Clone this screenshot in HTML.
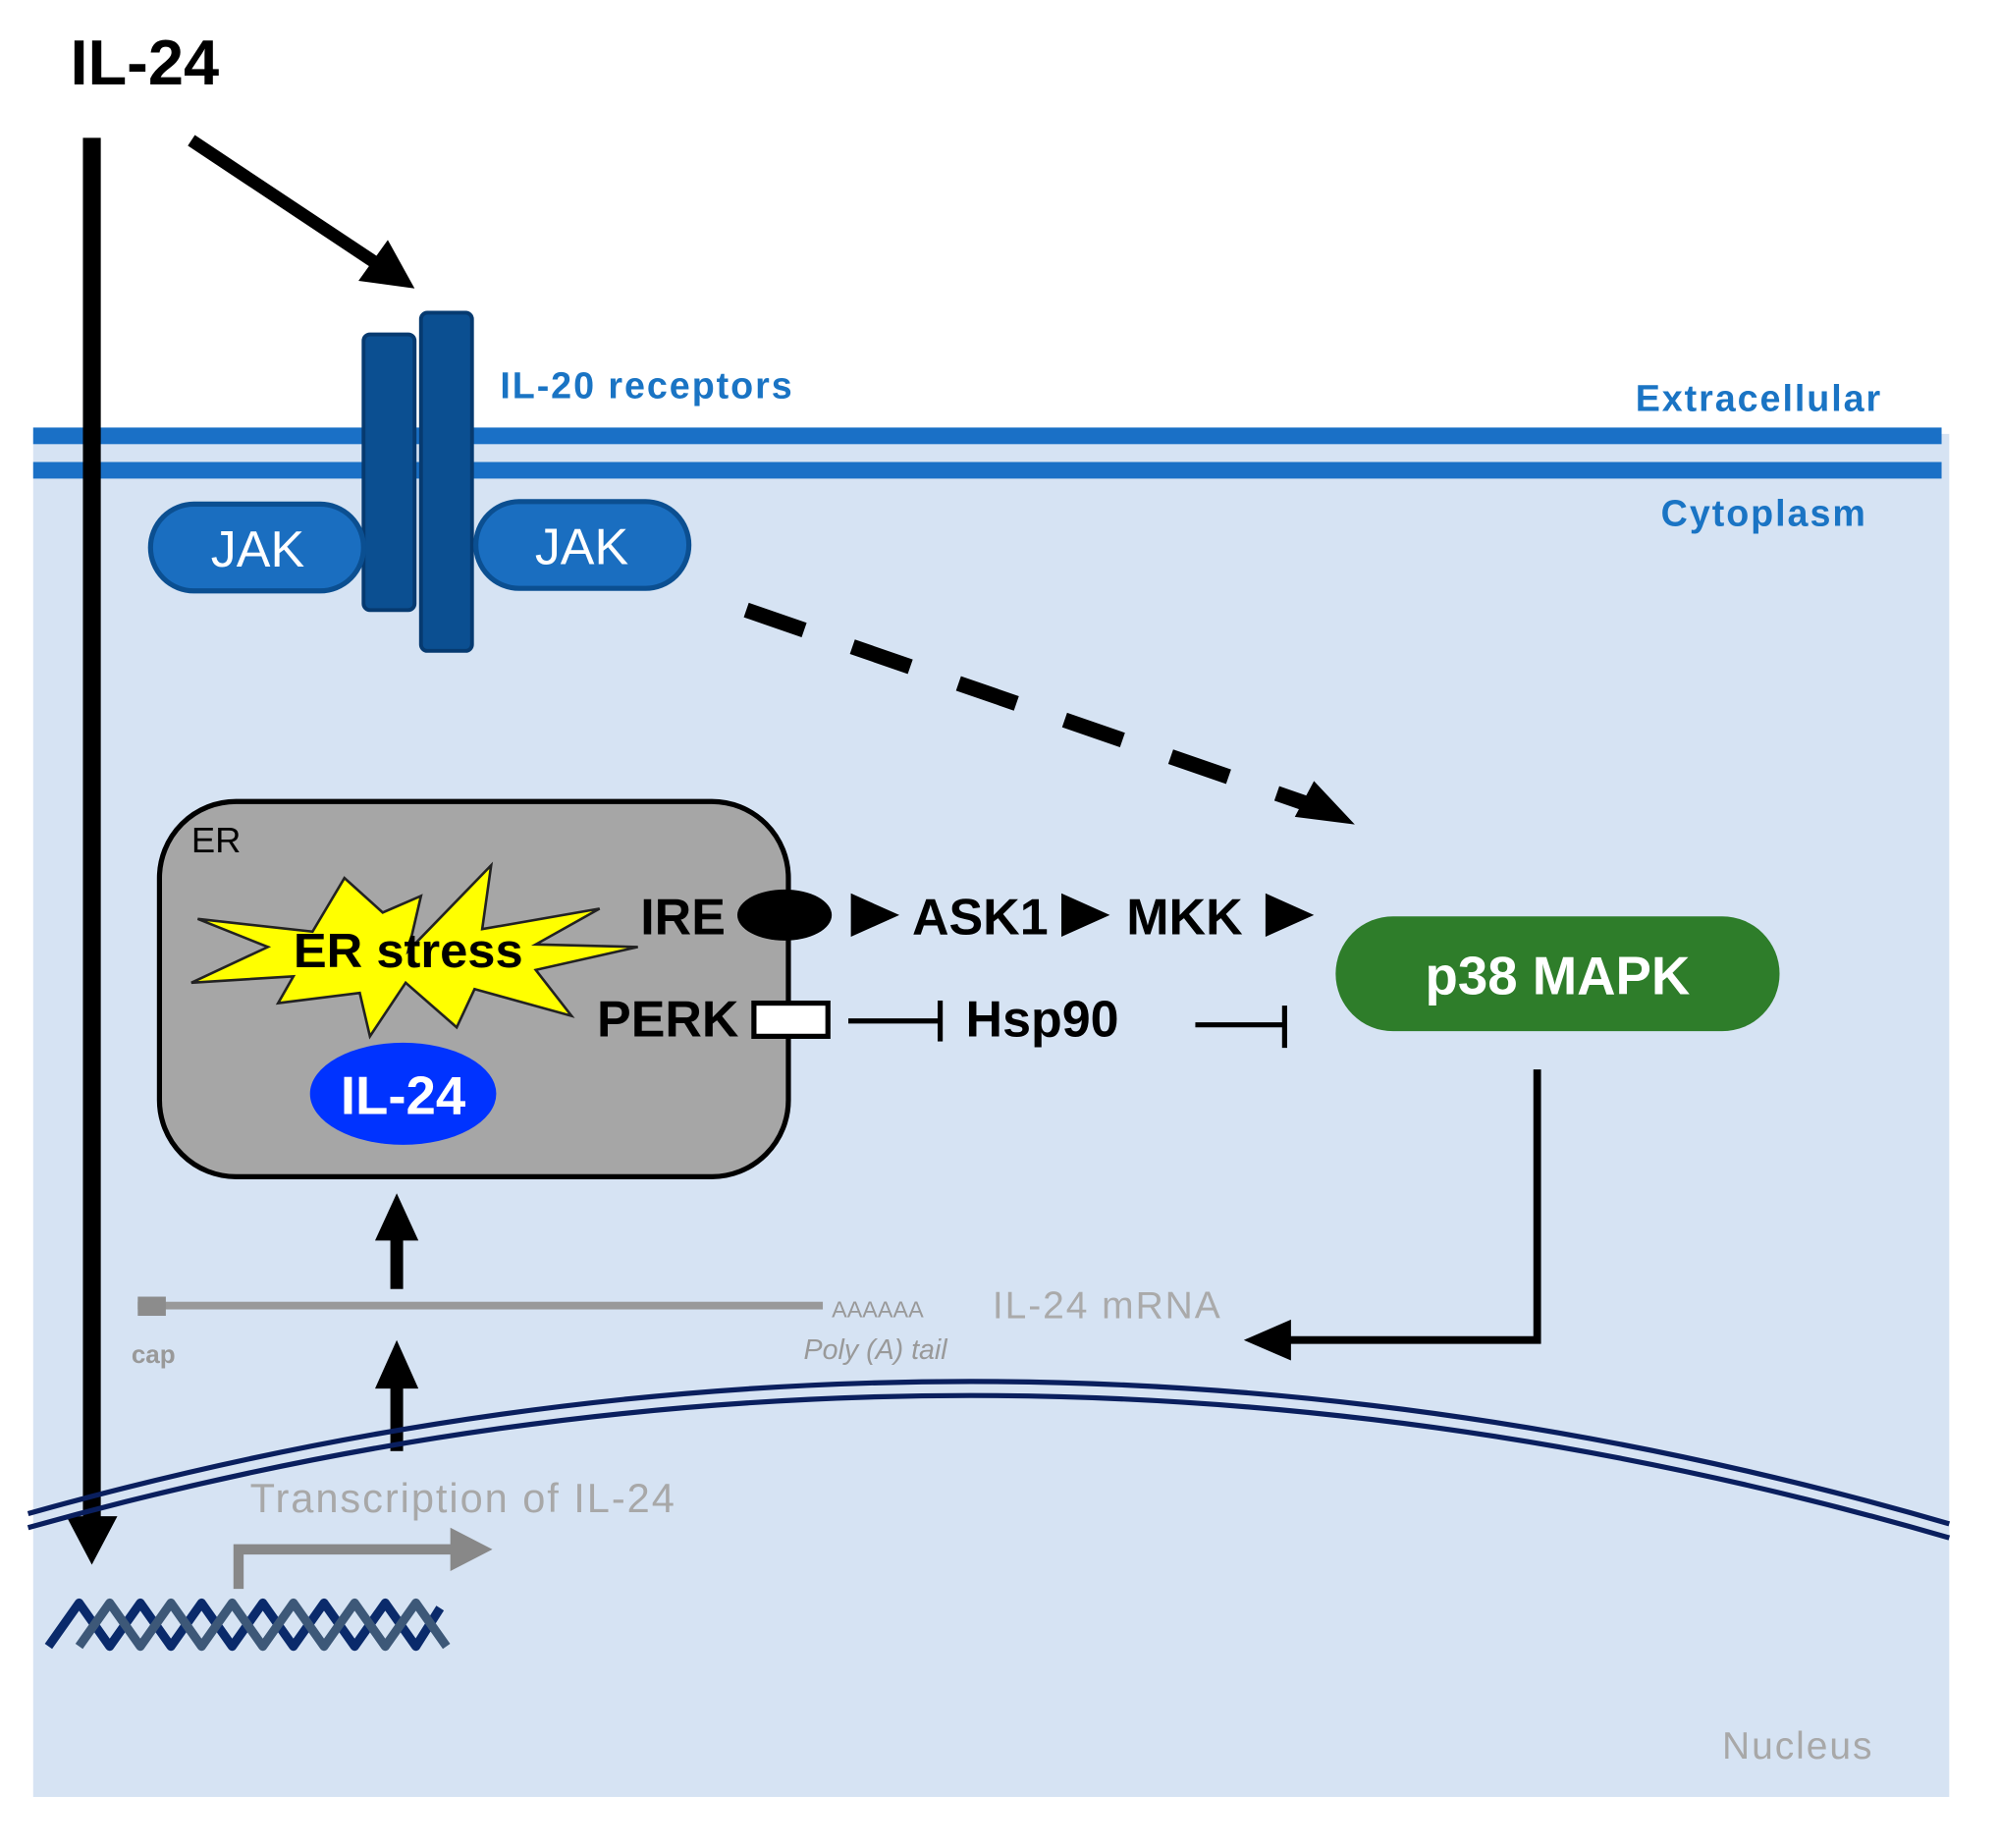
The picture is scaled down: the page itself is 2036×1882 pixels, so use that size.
<!DOCTYPE html>
<html><head><meta charset="utf-8"><style>
html,body{margin:0;padding:0;background:#fff;}
svg{display:block;}
text{font-family:"Liberation Sans",sans-serif;}
</style></head><body>
<svg width="2036" height="1882" viewBox="0 0 1567 1448" preserveAspectRatio="none" xmlns="http://www.w3.org/2000/svg">
<rect x="26" y="340" width="1502" height="1068" fill="#d6e3f3"/>
<rect x="26" y="335" width="1496" height="13" fill="#1a70c6"/>
<rect x="26" y="362" width="1496" height="13" fill="#1a70c6"/>

<text x="55" y="66" font-size="50" font-weight="bold" fill="#000">IL-24</text>

<rect x="65" y="108" width="14" height="1085" fill="#000"/>
<path d="M52,1188 L92,1188 L72,1226 z" fill="#000"/>
<line x1="150" y1="110" x2="296" y2="207" stroke="#000" stroke-width="10"/>
<path d="M281,220 L325,226 L304,188 z" fill="#000"/>

<rect x="285" y="262" width="40" height="216" rx="5" fill="#0b4f91" stroke="#063a70" stroke-width="3"/>
<rect x="330" y="245" width="40" height="265" rx="5" fill="#0b4f91" stroke="#063a70" stroke-width="3"/>
<rect x="118" y="395" width="167" height="68" rx="34" fill="#1a6ec0" stroke="#0b4f91" stroke-width="4"/>
<rect x="373" y="393" width="167" height="68" rx="34" fill="#1a6ec0" stroke="#0b4f91" stroke-width="4"/>
<text x="202" y="444" font-size="40" fill="#fff" text-anchor="middle">JAK</text>
<text x="456" y="442" font-size="40" fill="#fff" text-anchor="middle">JAK</text>
<text x="392" y="312" font-size="29" font-weight="bold" fill="#1a74c4" letter-spacing="1.5">IL-20 receptors</text>
<text x="1282" y="322" font-size="29" font-weight="bold" fill="#1a74c4" letter-spacing="1.5">Extracellular</text>
<text x="1302" y="412" font-size="29" font-weight="bold" fill="#1a74c4" letter-spacing="1.5">Cytoplasm</text>

<line x1="585" y1="478" x2="1025" y2="630" stroke="#000" stroke-width="12" stroke-dasharray="48,40"/>
<path d="M1015,640 L1062,646 L1030,612 z" fill="#000"/>

<rect x="125" y="628" width="493" height="294" rx="60" fill="#a6a6a6" stroke="#000" stroke-width="4"/>
<text x="150" y="668" font-size="28" fill="#000">ER</text>
<polygon points="320,745 385,678 378,728 470,712 420,740 500,742 420,760 448,796 372,775 358,805 318,770 290,812 282,778 218,786 230,765 150,770 210,742 155,720 245,730 270,688 300,715 330,702" fill="#ffff00" stroke="#222" stroke-width="2"/>
<text x="320" y="758" font-size="38" font-weight="bold" fill="#000" text-anchor="middle" textLength="180" lengthAdjust="spacingAndGlyphs">ER stress</text>
<ellipse cx="316" cy="857" rx="73" ry="40" fill="#0033ff"/>
<text x="316" y="873" font-size="42" font-weight="bold" fill="#fff" text-anchor="middle">IL-24</text>

<text x="502" y="732" font-size="40" font-weight="bold" fill="#000">IRE</text>
<ellipse cx="615" cy="717" rx="37" ry="20" fill="#000"/>
<path d="M667,700 L705,717 L667,734 z" fill="#000"/>
<text x="715" y="732" font-size="40" font-weight="bold" fill="#000">ASK1</text>
<path d="M832,700 L870,717 L832,734 z" fill="#000"/>
<text x="883" y="732" font-size="40" font-weight="bold" fill="#000">MKK</text>
<path d="M992,700 L1030,717 L992,734 z" fill="#000"/>

<text x="468" y="812" font-size="40" font-weight="bold" fill="#000">PERK</text>
<rect x="591" y="786" width="58" height="26" fill="#fff" stroke="#000" stroke-width="4"/>
<line x1="665" y1="800" x2="737" y2="800" stroke="#000" stroke-width="4"/>
<line x1="737" y1="784" x2="737" y2="816" stroke="#000" stroke-width="4"/>
<text x="757" y="812" font-size="40" font-weight="bold" fill="#000">Hsp90</text>
<line x1="937" y1="803" x2="1007" y2="803" stroke="#000" stroke-width="4"/>
<line x1="1007" y1="788" x2="1007" y2="821" stroke="#000" stroke-width="4"/>

<rect x="1047" y="718" width="348" height="90" rx="45" fill="#2e7d2a"/>
<text x="1221" y="779" font-size="42" font-weight="bold" fill="#fff" text-anchor="middle">p38 MAPK</text>

<polyline points="1205,838 1205,1050 1010,1050" fill="none" stroke="#000" stroke-width="6"/>
<path d="M1012,1034 L975,1050 L1012,1066 z" fill="#000"/>

<rect x="108" y="1020" width="537" height="6" fill="#999"/>
<rect x="108" y="1016" width="22" height="15" fill="#8c8c8c"/>
<text x="652" y="1032" font-size="18" fill="#999">AAAAAA</text>
<text x="778" y="1033" font-size="30" fill="#aaa" letter-spacing="1.5">IL-24 mRNA</text>
<text x="103" y="1068" font-size="20" fill="#999" font-weight="bold">cap</text>
<text x="630" y="1065" font-size="22" font-style="italic" fill="#999">Poly (A) tail</text>

<rect x="306" y="970" width="10" height="40" fill="#000"/>
<path d="M294,972 L311,935 L328,972 z" fill="#000"/>
<rect x="306" y="1085" width="10" height="52" fill="#000"/>
<path d="M294,1088 L311,1050 L328,1088 z" fill="#000"/>

<path d="M22,1186 Q775,975 1528,1194" fill="none" stroke="#0a1f5e" stroke-width="4"/>
<path d="M22,1197 Q775,986 1528,1205" fill="none" stroke="#0a1f5e" stroke-width="4"/>

<text x="196" y="1185" font-size="32" fill="#a8a8a8" letter-spacing="1.5">Transcription of IL-24</text>
<polyline points="187,1245 187,1214 355,1214" fill="none" stroke="#888" stroke-width="8"/>
<path d="M353,1197 L386,1214 L353,1231 z" fill="#888"/>

<g stroke-width="7" fill="none" stroke-linejoin="round">
<polyline points="38,1290 62,1256 86,1290 110,1256 134,1290 158,1256 182,1290 206,1256 230,1290 254,1256 278,1290 302,1256 326,1290 345,1260" stroke="#0a2a6b"/>
<polyline points="62,1290 86,1256 110,1290 134,1256 158,1290 182,1256 206,1290 230,1256 254,1290 278,1256 302,1290 326,1256 350,1290 M340,1256 L376,1290" stroke="#3d5878"/>
</g>
<text x="1350" y="1378" font-size="30" fill="#a8a8a8" letter-spacing="1.5">Nucleus</text>
</svg>
</body></html>
